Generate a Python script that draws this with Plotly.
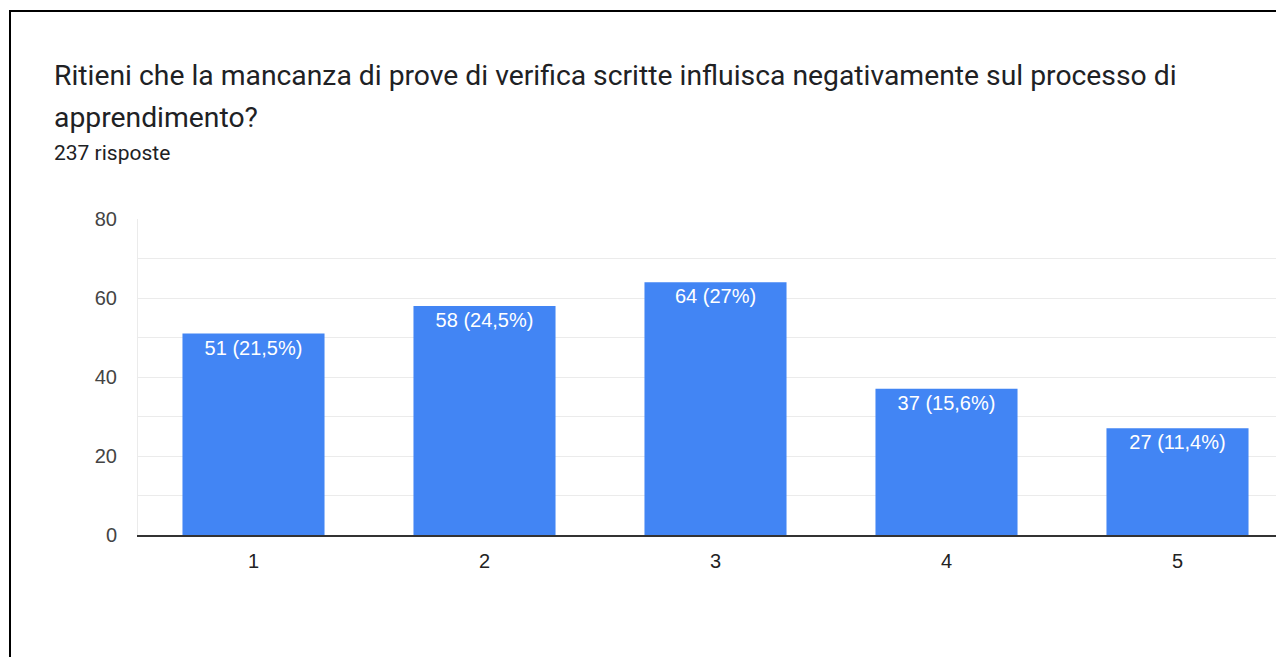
import plotly.graph_objects as go

TITLE_LINE_1 = "Ritieni che la mancanza di prove di verifica scritte influisca negativamente sul processo di"
TITLE_LINE_2 = "apprendimento?"
SUBTITLE = "237 risposte"

categories = [1, 2, 3, 4, 5]
counts = [51, 58, 64, 37, 27]
percents = ["21,5", "24,5", "27", "15,6", "11,4"]
labels = [f"{c} ({p}%)" for c, p in zip(counts, percents)]

# page body has an 8px margin, so the figure is drawn 8px in from the corner
OFF = 8
W, H = 1284 - OFF, 657 - OFF
L, R, T, B = 138 - OFF, 0, 219 - OFF, 657 - 535
BLUE = "#4285f4"


def px_x(px):
    return (px - OFF - L) / (W - L - R)


def px_y(py):
    return (H - B - (py - OFF)) / (H - T - B)


fig = go.Figure(
    go.Bar(
        x=categories, y=counts, text=labels, width=0.615,
        marker_color=BLUE, marker_line_width=0,
        textposition="inside", insidetextanchor="end", constraintext="none",
        textfont=dict(color="white", size=20, family="Arial, Liberation Sans"),
        hoverinfo="skip",
    )
)

fig.update_layout(
    width=W, height=H, margin=dict(l=L, r=R, t=T, b=B),
    paper_bgcolor="white", plot_bgcolor="white", showlegend=False,
    font=dict(family="Arial, Liberation Sans", color="#444"),
)
fig.update_xaxes(
    range=[0.5, 0.5 + (W - L - R) / 231], tickvals=categories,
    showgrid=False, zeroline=False,
    showline=True, linecolor="#333", linewidth=2,
    ticks="outside", ticklen=7, tickcolor="rgba(0,0,0,0)",
    tickfont=dict(size=20, color="#222"),
)
fig.update_yaxes(
    range=[0, 80], dtick=20, showgrid=True, gridcolor="#ebebeb", gridwidth=1,
    minor=dict(dtick=10, showgrid=True, gridcolor="#ebebeb"),
    zeroline=False, showline=True, linecolor="#ebebeb", linewidth=1,
    ticks="outside", ticklen=16, tickcolor="rgba(0,0,0,0)",
    tickfont=dict(size=20, color="#444"),
)

text_font = "Roboto, Arial"
fig.add_annotation(text=TITLE_LINE_1, xref="paper", yref="paper",
                   x=px_x(52), y=px_y(75), xanchor="left", yanchor="middle",
                   showarrow=False, font=dict(family=text_font, size=28.3, color="#202124"))
fig.add_annotation(text=TITLE_LINE_2, xref="paper", yref="paper",
                   x=px_x(52), y=px_y(117), xanchor="left", yanchor="middle",
                   showarrow=False, font=dict(family=text_font, size=28.3, color="#202124"))
fig.add_annotation(text=SUBTITLE, xref="paper", yref="paper",
                   x=px_x(52), y=px_y(153), xanchor="left", yanchor="middle",
                   showarrow=False, font=dict(family=text_font, size=21, color="#202124"))

# screenshot frame
fig.add_shape(type="rect", xref="paper", yref="paper",
              x0=px_x(10), y0=px_y(700), x1=px_x(1320), y1=px_y(11),
              line=dict(color="black", width=2), fillcolor="rgba(0,0,0,0)")

fig.write_html("out.html")
